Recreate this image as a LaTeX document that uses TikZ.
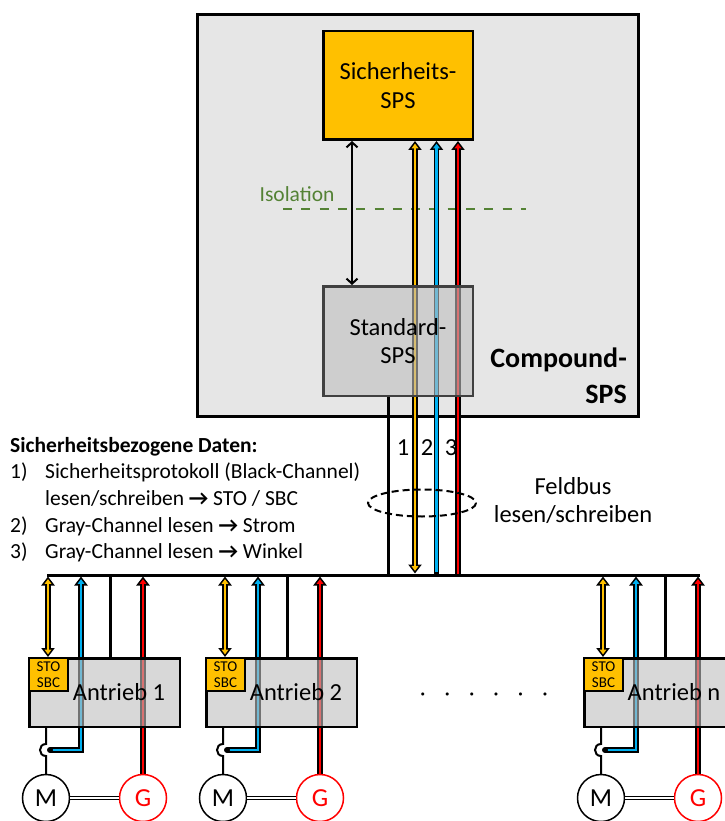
\documentclass[tikz,border=0pt]{standalone}
\usepackage{fontspec}
\setmainfont{Carlito}
\usetikzlibrary{arrows.meta}
\definecolor{cy}{HTML}{FFC000}
\definecolor{cb}{HTML}{00B0F0}
\definecolor{cr}{HTML}{FF0000}
\definecolor{cg}{HTML}{548235}
\definecolor{cbg}{HTML}{E6E6E6}
\definecolor{cbox}{HTML}{BEBEBE}
\definecolor{cdk}{HTML}{404040}
\pgfdeclarelayer{back}
\pgfdeclarelayer{wires}
\pgfsetlayers{back,wires,main}
\newcommand\cwire[4]{\draw[wo,#2] #4; \draw[wi,draw=#1,#3] #4;}
\newcommand\barr{{\bfseries →}}
\begin{document}
\begin{tikzpicture}[x=1pt,y=-1pt,
  wo/.style={line width=5.5pt,draw=black},
  wi/.style={line width=2.5pt},
  ob/.style={{Triangle[width=13pt,length=9pt]}-{Triangle[width=13pt,length=9pt]}},
  os/.style={{Triangle[width=13pt,length=9pt]}-},
  ib/.style={{Triangle[width=6.6pt,length=4.6pt]}-{Triangle[width=6.6pt,length=4.6pt]},shorten <=2.7pt,shorten >=2.7pt},
  is/.style={{Triangle[width=6.6pt,length=4.6pt]}-,shorten <=2.7pt},
  box/.style={draw,line width=2.5pt,anchor=north west,inner sep=0pt},
  t22/.style={font=\fontsize{21.5}{26.5}\selectfont,inner sep=0pt},
  b22/.style={font=\fontsize{21.5}{26.5}\selectfont\bfseries,inner sep=0pt},
  b28/.style={font=\fontsize{28}{33}\selectfont\bfseries,inner sep=0pt},
  t23/.style={font=\fontsize{24.5}{28.5}\selectfont,inner sep=0pt},
  gbox/.style={box,fill=cbox,fill opacity=0.6,text opacity=1},
  blk/.style={line width=2pt,{Straight Barb[length=5pt,width=11pt]}-{Straight Barb[length=5pt,width=11pt]}},
]
\useasboundingbox (0,0) rectangle (724,821);
\begin{pgfonlayer}{back}
\node[box,line width=3pt,fill=cbg,minimum width=441pt,minimum height=402pt] (cmp) at (196,13) {};
\end{pgfonlayer}
\node[box,fill=cy,minimum width=149.5pt,minimum height=108.5pt,t23,align=center] (sps) at (322,30) {Sicherheits-\\SPS};
\node[gbox,draw=cdk,minimum width=149.5pt,minimum height=109.5pt,t23,align=center] (std) at (322,285) {Standard-\\SPS};
\node[b28,anchor=base east] (cmpa) at (627,367) {Compound-};
\node[b28,anchor=base east] (cmpb) at (627,403) {SPS};
\node[t22,text=cg,anchor=base] (iso) at (297,201) {Isolation};
\coordinate (isoL) at (283,209);
\coordinate (isoR) at (526,209);
\coordinate (kx) at (352,0);
\coordinate (yx) at (415,573.5);
\coordinate (bx) at (436.5,573.5);
\coordinate (rx) at (458,575);
\coordinate (sx) at (388,575);
\coordinate (busL) at (47,575);
\coordinate (busR) at (700,575);
\begin{pgfonlayer}{wires}
\draw[cg,line width=2.5pt,dash pattern=on 9pt off 9.3pt] (isoL) -- (isoR);
\draw[blk] (sps.south -| kx) -- (std.north -| kx);
\cwire{cy}{ob}{ib}{(sps.south -| yx) -- (yx)}
\cwire{cb}{os}{is,shorten >=1.4pt}{(sps.south -| bx) -- (bx)}
\cwire{cr}{os}{is}{(sps.south -| rx) -- (rx)}
\draw[line width=3pt] (std.south -| sx) -- (sx);
\draw[line width=3pt] (busL) -- (busR);
\end{pgfonlayer}
\node[t23,anchor=base] (num1) at (403,455) {1};
\node[t23,anchor=base] (num2) at (427,455) {2};
\node[t23,anchor=base] (num3) at (451,455) {3};
\coordinate (ell) at (422,503);
\draw[line width=2pt,dash pattern=on 7pt off 4pt] (ell) ellipse [x radius=54, y radius=13.5];
\node[t23,anchor=base] (fb1) at (573,494) {Feldbus};
\node[t23,anchor=base] (fb2) at (573,522) {lesen/schreiben};
\node[b22,anchor=base west] (h0) at (10,452) {Sicherheitsbezogene Daten:};
\node[t22,anchor=base west] (n1) at (10,478) {1)};
\node[t22,anchor=base west] (l1) at (45,478) {Sicherheitsprotokoll (Black-Channel)};
\node[t22,anchor=base west] (l1b) at (45,505) {lesen/schreiben \barr{} STO / SBC};
\node[t22,anchor=base west] (n2) at (10,532) {2)};
\node[t22,anchor=base west] (l2) at (45,532) {Gray-Channel lesen \barr{} Strom};
\node[t22,anchor=base west] (n3) at (10,558) {3)};
\node[t22,anchor=base west] (l3) at (45,558) {Gray-Channel lesen \barr{} Winkel};
\node[t22,anchor=base west] (dots) at (420,700) {·\hspace{19pt}·\hspace{19pt}·\hspace{19pt}·\hspace{19pt}·\hspace{19pt}·};
\foreach \i/\dx/\lab in {1/0/1,2/177/2,3/555/n}{
  \node[gbox,minimum width=150.5pt,minimum height=68.5pt] (d\i) at (28+\dx,657) {};
  \node[box,line width=2pt,fill=cy,minimum width=39pt,minimum height=33pt,align=center,font=\fontsize{15}{15.5}\selectfont] (s\i) at (28+\dx,657) {STO\\SBC};
  \node[t23,anchor=base] (a\i) at (119+\dx,700) {Antrieb \lab};
  \node[circle,draw,line width=1.5pt,minimum size=47pt,inner sep=0pt,font=\fontsize{26}{28}\selectfont] (m\i) at (46+\dx,798) {M};
  \node[circle,draw=cr,text=cr,line width=1.5pt,minimum size=47pt,inner sep=0pt,font=\fontsize{26}{28}\selectfont] (g\i) at (143+\dx,798) {G};
  \coordinate (y\i) at (48+\dx,576.5);
  \coordinate (b\i) at (81+\dx,576.5);
  \coordinate (c\i) at (81+\dx,750);
  \coordinate (p\i) at (50+\dx,750);
  \coordinate (k\i) at (110+\dx,575);
  \coordinate (r\i) at (143+\dx,576.5);
  \coordinate (wa\i) at (46+\dx,744);
  \coordinate (wb\i) at (46+\dx,756);
  \begin{pgfonlayer}{wires}
   \cwire{cy}{ob}{ib}{(y\i) -- (y\i |- s\i.north)}
   \cwire{cb}{os}{is}{(b\i) -- (c\i) -- (p\i)}
   \cwire{cr}{os}{is}{(r\i) -- (g\i.north)}
   \draw[line width=3pt] (k\i) -- (k\i |- d\i.north);
  \end{pgfonlayer}
  \draw[line width=2pt] (d\i.south -| wa\i) -- (wa\i) .. controls +(-8,0) and +(-8,0) .. (wb\i) -- (m\i.north);
  \fill (p\i) circle (3pt);
  \draw[line width=1pt,double,double distance=2.4pt] (m\i) -- (g\i);
}
\end{tikzpicture}
\end{document}
